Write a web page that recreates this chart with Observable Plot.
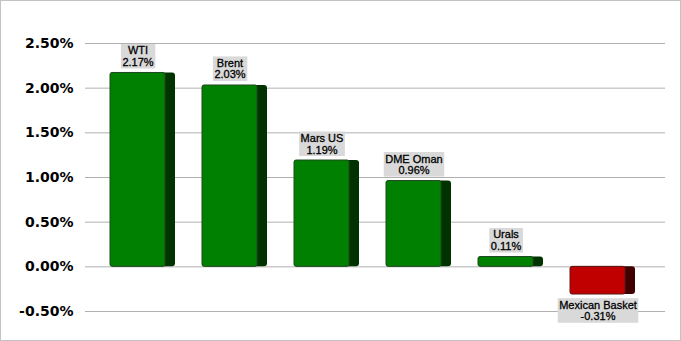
<!DOCTYPE html>
<html>
<head>
<meta charset="utf-8">
<script src="https://cdn.jsdelivr.net/npm/d3@7"></script>
<script src="https://cdn.jsdelivr.net/npm/@observablehq/plot@0.6"></script>
<style>
  html, body { margin: 0; padding: 0; background: #fff; }
  #frame { width: 679px; height: 339px; border: 1px solid #c3c3c3; overflow: hidden; }
  #frame svg { display: block; }
</style>
</head>
<body>
<div id="frame"></div>
<script>
const categories = ["WTI", "Brent", "Mars US", "DME Oman", "Urals", "Mexican Basket"];
const values = [2.17, 2.03, 1.19, 0.96, 0.11, -0.31];
const yTicks = [-0.5, 0, 0.5, 1.0, 1.5, 2.0, 2.5];

const data = categories.map((c, i) => ({ name: c, value: values[i] }));
const pos = data.filter(d => d.value >= 0);
const neg = data.filter(d => d.value < 0);
const labelText = d => d.name + "\n" + d.value.toFixed(2) + "%";

const chart = Plot.plot({
  width: 679,
  height: 339,
  marginLeft: 84,
  marginRight: 15,
  marginTop: 0,
  marginBottom: 0,
  style: { fontFamily: "DejaVu Sans", fontSize: "14px", fontWeight: "bold", color: "#000", background: "#fff" },
  color: { type: "identity" },
  x: { domain: categories, range: [107.5, 636.8], paddingInner: 0.29, paddingOuter: 0, axis: null },
  y: {
    domain: [-0.5, 2.5], range: [310, 42], ticks: yTicks,
    tickFormat: d => d.toFixed(2) + "%", tickSize: 0, tickPadding: 12, label: null
  },
  marks: [
    Plot.ruleY(yTicks, { stroke: "#b0b0b0", strokeWidth: 1 }),
    Plot.barY(data, { x: "name", y: "value", fill: d => d.value >= 0 ? "#003300" : "#400000", rx: 3 }),
    Plot.barY(data, {
      x: "name", y: "value", insetRight: 10,
      fill: d => d.value >= 0 ? "#008000" : "#c00000",
      stroke: d => d.value >= 0 ? "#1f4a1f" : "#5a1a1a", strokeWidth: 1, rx: 2
    }),
    Plot.text(pos, {
      x: "name", y: "value", text: labelText, dx: -5, dy: -7, lineAnchor: "bottom",
      lineHeight: 1.05, fontSize: 11, fontFamily: "Liberation Sans", fontWeight: "normal",
      fill: "#000", stroke: "#000", strokeWidth: 0.3, className: "lbl"
    }),
    Plot.text(neg, {
      x: "name", y: "value", text: labelText, dx: -5, dy: 6, lineAnchor: "top",
      lineHeight: 1.05, fontSize: 11, fontFamily: "Liberation Sans", fontWeight: "normal",
      fill: "#000", stroke: "#000", strokeWidth: 0.3, className: "lbl"
    })
  ]
});

document.getElementById("frame").appendChild(chart);

// gray label backgrounds sized to the rendered text
chart.querySelectorAll("g.lbl text").forEach(t => {
  const b = t.getBBox();
  const r = document.createElementNS("http://www.w3.org/2000/svg", "rect");
  r.setAttribute("x", b.x - 1.5);
  r.setAttribute("y", b.y - 0.5);
  r.setAttribute("width", b.width + 3);
  r.setAttribute("height", b.height + 1);
  r.setAttribute("fill", "#d9d9d9");
  r.setAttribute("stroke", "none");
  const tr = t.getAttribute("transform");
  if (tr) r.setAttribute("transform", tr);
  t.parentNode.insertBefore(r, t);
});
</script>
</body>
</html>
